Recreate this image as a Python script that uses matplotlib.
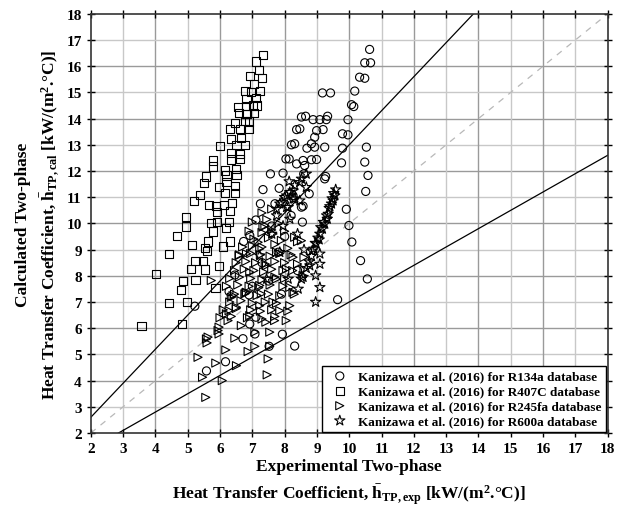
import numpy as np
import matplotlib
matplotlib.use("Agg")
import matplotlib.pyplot as plt
from matplotlib.ticker import MultipleLocator

plt.rcParams["font.family"] = ["Liberation Serif", "DejaVu Serif"]
plt.rcParams["font.weight"] = "bold"
plt.rcParams["mathtext.fontset"] = "custom"
plt.rcParams["mathtext.rm"] = "Liberation Serif:bold"
plt.rcParams["mathtext.bf"] = "Liberation Serif:bold"
plt.rcParams["mathtext.it"] = "Liberation Serif:bold"

# R134a (circles)
r134a_x = [10.63, 10.48, 10.66, 10.32, 10.48, 9.17, 9.42, 10.17, 10.07, 10.14,
           8.52, 8.65, 8.88, 9.09, 9.29, 9.33, 9.96, 8.37, 8.47, 8.99,
           9.19, 9.79, 9.96, 8.93, 8.21, 8.31, 8.83, 8.93, 9.24, 8.69,
           9.79, 10.53, 8.04, 8.14, 8.57, 8.83, 8.99, 8.37, 8.62, 9.76,
           10.48, 7.56, 7.95, 8.59, 9.27, 10.58, 9.24, 7.33, 7.83, 8.76,
           10.51, 7.25, 7.70, 8.57, 9.91, 7.11, 8.55, 9.99, 6.73, 6.92,
           10.08, 10.35, 10.56, 9.64, 8.31, 7.93, 6.46, 6.28, 5.22, 7.11,
           6.92, 6.71, 6.17, 5.58, 6.90, 7.52, 7.08, 8.26, 8.52, 7.30,
           7.80, 7.50, 8.00, 8.20, 7.60, 7.00, 7.90, 8.40]
r134a_y = [16.64, 16.13, 16.13, 15.58, 15.54, 14.98, 14.98, 15.05, 14.53, 14.46,
           14.06, 14.09, 13.96, 13.96, 13.96, 14.09, 13.96, 13.58, 13.61, 13.54,
           13.58, 13.42, 13.38, 13.29, 13.00, 13.04, 13.04, 12.91, 12.91, 12.87,
           12.87, 12.91, 12.46, 12.46, 12.40, 12.43, 12.44, 12.27, 12.21, 12.31,
           12.34, 11.89, 11.92, 11.89, 11.79, 11.83, 11.70, 11.29, 11.34, 11.13,
           11.22, 10.75, 10.75, 10.66, 10.54, 10.13, 10.05, 9.92, 9.31, 9.54,
           9.29, 8.58, 7.88, 7.09, 5.32, 5.77, 8.03, 7.40, 6.84, 6.42,
           6.16, 5.60, 4.72, 4.37, 7.27, 5.31, 5.78, 11.06, 10.62, 8.50,
           8.90, 7.80, 9.50, 10.30, 9.90, 7.60, 7.30, 8.20]

# R407C (squares)
r407c_x = [7.33, 7.11, 7.21, 6.94, 7.30, 7.05, 7.25, 6.77, 6.97, 7.11,
           6.82, 6.56, 6.80, 7.03, 7.15, 6.59, 6.82, 7.04, 6.46, 6.77,
           6.90, 6.30, 6.61, 6.90, 6.35, 6.66, 6.01, 6.51, 6.77, 6.35,
           6.61, 5.79, 5.77, 6.35, 6.61, 6.15, 6.49, 5.56, 6.20, 6.51,
           5.50, 5.97, 6.20, 6.46, 6.46, 6.15, 5.39, 5.19, 5.66, 5.87,
           6.12, 6.38, 5.91, 6.30, 4.94, 4.96, 5.73, 5.91, 6.28, 5.79,
           6.18, 4.68, 5.63, 5.13, 5.53, 6.10, 6.30, 5.61, 4.41, 5.24,
           5.48, 5.11, 5.53, 5.96, 4.03, 4.86, 5.24, 4.79, 5.86, 4.41,
           4.99, 4.81, 3.57]
r407c_y = [16.41, 16.18, 15.86, 15.61, 15.56, 15.33, 15.07, 15.05, 15.01, 14.78,
           14.75, 14.44, 14.48, 14.50, 14.50, 14.22, 14.18, 14.22, 13.84, 13.90,
           13.89, 13.61, 13.61, 13.61, 13.23, 13.27, 12.97, 13.00, 13.00, 12.68,
           12.65, 12.40, 12.17, 12.44, 12.46, 12.02, 12.08, 11.79, 11.83, 11.85,
           11.55, 11.38, 11.57, 11.44, 11.17, 11.17, 11.09, 10.87, 10.71, 10.68,
           10.71, 10.77, 10.43, 10.49, 10.24, 9.88, 10.01, 10.05, 10.07, 9.69,
           9.82, 9.53, 9.31, 9.18, 9.05, 9.12, 9.31, 8.96, 8.84, 8.58,
           8.58, 8.26, 8.24, 8.39, 8.07, 7.79, 7.84, 7.46, 7.54, 6.95,
           7.01, 6.16, 6.08]

# R245fa (right triangles)
r245fa_x = [5.56, 6.07, 5.46, 7.46, 5.87, 6.51, 5.32, 7.49, 6.18, 6.87,
            5.58, 5.60, 6.46, 7.08, 7.54, 5.94, 5.97, 6.66, 7.08, 7.54,
            6.25, 6.92, 7.42, 6.28, 6.51, 7.23, 7.69, 8.05, 7.85, 7.64,
            8.16, 6.40, 6.77, 7.28, 7.85, 8.26, 5.73, 6.59, 6.35, 6.20,
            5.97, 5.63, 7.33, 7.39, 7.18, 7.64, 8.31, 8.52, 7.23, 7.75,
            6.82, 8.26, 7.44, 8.06, 6.92, 8.57, 7.75, 7.23, 8.16, 6.82,
            7.30, 7.60, 7.00, 7.45, 7.80, 6.90, 7.30, 7.60, 8.00, 7.05,
            7.50, 7.90, 8.40, 6.70, 7.00, 7.30, 7.70, 8.10, 6.60, 6.95,
            7.25, 7.55, 7.85, 8.20, 8.60, 6.50, 6.80, 7.10, 7.40, 7.70,
            8.00, 8.40, 6.45, 6.75, 7.05, 7.35, 7.60, 7.95, 8.25, 8.60,
            6.30, 6.60, 6.95, 7.30, 7.70, 8.00, 6.20, 6.55, 6.90, 7.20,
            7.55, 7.95, 6.45, 6.80, 7.15, 7.50, 8.30, 6.30, 6.65, 7.00,
            7.40, 7.75, 6.10, 6.50, 6.95, 7.25, 7.60, 8.10, 6.00, 6.35,
            6.85, 7.30, 7.70]
r245fa_y = [3.36, 4.00, 4.13, 4.22, 4.67, 4.57, 4.89, 4.83, 5.17, 5.11,
            5.59, 5.44, 5.62, 5.31, 5.31, 5.91, 5.78, 6.10, 5.85, 5.85,
            6.29, 6.48, 6.23, 6.67, 6.80, 6.86, 6.29, 6.29, 6.67, 7.00,
            6.86, 7.24, 7.31, 7.31, 7.24, 7.37, 7.82, 8.77, 7.18, 6.55,
            6.04, 5.66, 9.86, 9.92, 9.28, 9.60, 9.47, 9.34, 9.03, 8.90,
            8.84, 8.71, 8.39, 8.26, 8.14, 8.01, 7.88, 7.63, 7.56, 7.37,
            10.40, 10.55, 10.05, 10.15, 10.00, 9.70, 9.65, 9.75, 9.70, 9.40,
            9.45, 9.35, 9.30, 9.10, 9.15, 9.10, 9.20, 9.05, 8.80, 8.85,
            8.80, 8.75, 8.85, 8.80, 8.70, 8.50, 8.55, 8.50, 8.45, 8.55,
            8.50, 8.45, 8.20, 8.25, 8.20, 8.15, 8.25, 8.20, 8.20, 8.25,
            7.90, 7.95, 7.90, 7.85, 7.95, 7.90, 7.60, 7.65, 7.60, 7.55,
            7.65, 7.60, 7.30, 7.35, 7.25, 7.30, 7.30, 7.00, 7.05, 6.95,
            7.00, 6.95, 6.70, 6.75, 6.70, 6.65, 6.70, 6.65, 6.40, 6.45,
            6.40, 6.35, 6.45]

# R600a (stars)
r600a_x = [9.58, 9.55, 9.50, 9.45, 9.38, 9.35, 9.32, 9.24, 9.17, 9.09,
           9.07, 8.98, 8.90, 9.09, 8.83, 8.76, 9.09, 8.67, 8.96, 8.57,
           9.09, 8.96, 9.52, 9.47, 9.40, 9.30, 9.20, 9.12, 9.03, 8.95,
           8.85, 8.67, 8.52, 8.31, 8.16, 8.00, 8.26, 7.85, 8.06, 8.16,
           7.75, 8.14, 8.47, 8.26, 8.06, 7.90, 7.75, 8.31, 8.11, 8.47,
           8.67, 7.23, 7.44, 8.11, 8.42, 8.52, 8.78, 7.85, 7.60, 7.95,
           8.40, 8.60]
r600a_y = [11.29, 11.06, 10.87, 10.75, 10.58, 10.36, 10.17, 9.98, 9.79, 9.60,
           9.38, 9.22, 9.03, 8.84, 8.75, 8.54, 8.45, 8.29, 8.01, 7.95,
           7.56, 7.00, 11.15, 10.95, 10.65, 10.30, 10.05, 9.85, 9.45, 9.25,
           8.95, 11.89, 11.70, 11.45, 11.19, 11.00, 10.94, 10.75, 10.62, 10.17,
           10.30, 11.60, 11.57, 11.25, 11.06, 10.81, 10.55, 10.94, 10.62, 10.87,
           11.38, 8.77, 7.88, 7.88, 7.50, 7.88, 8.39, 8.90, 9.60, 9.90,
           9.60, 9.00]

labels = ["Kanizawa et al. (2016) for R134a database",
          "Kanizawa et al. (2016) for R407C database",
          "Kanizawa et al. (2016) for R245fa database",
          "Kanizawa et al. (2016) for R600a database"]

fig = plt.figure(figsize=(6.22, 5.10), dpi=100)
ax = fig.add_axes([0.146, 0.149, 0.831, 0.822])

ax.set_xlim(2, 18)
ax.set_ylim(2, 18)

# grid: darker lines on even values, lighter on odd
ax.xaxis.set_major_locator(MultipleLocator(1))
ax.yaxis.set_major_locator(MultipleLocator(1))
for v in range(3, 18):
    c = "#9a9a9a" if v % 2 == 0 else "#c8c8c8"
    ax.axvline(v, color=c, lw=1.0, zorder=0)
    ax.axhline(v, color=c, lw=1.0, zorder=0)

# +/-30 % bands and the parity line
xl = np.array([2, 18])
ax.plot(xl, 1.3 * xl, color="black", lw=0.9, zorder=2)
ax.plot(xl, 0.7 * xl, color="black", lw=0.9, zorder=2)
ax.plot(xl, xl, color="#b8b8b8", lw=0.9, dashes=(5, 5), zorder=1)

kw = dict(facecolors="none", edgecolors="black", linewidths=0.8, s=34, zorder=3)
ax.scatter(r134a_x, r134a_y, marker="o", label=labels[0], **kw)
ax.scatter(r407c_x, r407c_y, marker="s", label=labels[1], **kw)
ax.scatter(r245fa_x, r245fa_y, marker=">", label=labels[2], **kw)
ax.scatter(r600a_x, r600a_y, marker="*", label=labels[3],
           facecolors="none", edgecolors="black", linewidths=0.8, s=60, zorder=3)

ax.tick_params(axis="both", which="major", direction="inout", length=6,
               width=1, labelsize=11, top=True, right=True)
for lab in ax.get_xticklabels() + ax.get_yticklabels():
    lab.set_fontweight("bold")
for sp in ax.spines.values():
    sp.set_linewidth(1.2)
    sp.set_color("#333333")

ax.set_xlabel("Experimental Two-phase\n"
              r"Heat Transfer Coefficient, $\bar{\mathrm{h}}_{\mathrm{TP,exp}}$ [kW/(m$^{\mathrm{2}}$.$\degree$C)]",
              fontsize=12.5, fontweight="bold", labelpad=2, linespacing=1.45)
ax.set_ylabel("Calculated Two-phase\n"
              r"Heat Transfer Coefficient, $\bar{\mathrm{h}}_{\mathrm{TP,cal}}$ [kW/(m$^{\mathrm{2}}$.$\degree$C)]",
              fontsize=12.5, fontweight="bold", labelpad=4, linespacing=1.4)

leg = ax.legend(loc="lower right", frameon=True, fancybox=False,
                edgecolor="black", framealpha=1, borderpad=0.35, labelspacing=0.2,
                handletextpad=0.4, borderaxespad=0.1, prop={"weight": "bold", "size": 9.5})
leg.get_frame().set_linewidth(1.0)
leg.set_zorder(5)

fig.savefig("out.png", dpi=100)
